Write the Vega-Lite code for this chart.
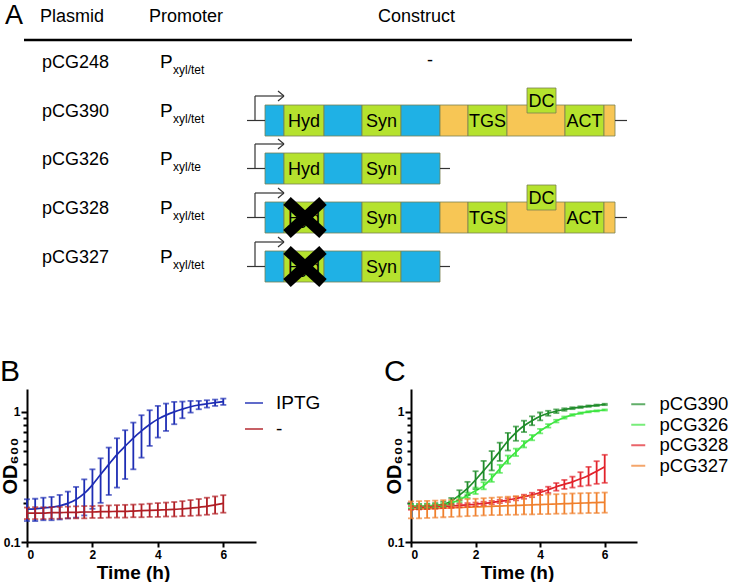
{
  "$schema": "https://vega.github.io/schema/vega-lite/v6.json",
  "autosize": {"type": "pad"},
  "padding": {"left": 0, "top": 0, "right": 34, "bottom": 0},
  "bounds": "flush",
  "spacing": 99,
  "resolve": {"scale": {"x": "independent", "y": "independent", "color": "independent"}, "legend": {"color": "independent"}},
  "datasets": {
    "segs": [
      {"p":"pCG390","x1":268,"x2":287,"y1":105,"y2":136,"kind":"operon1"},
      {"p":"pCG390","x1":287,"x2":327,"y1":105,"y2":136,"kind":"gene"},
      {"p":"pCG390","x1":327,"x2":365,"y1":105,"y2":136,"kind":"operon1"},
      {"p":"pCG390","x1":365,"x2":404,"y1":105,"y2":136,"kind":"gene"},
      {"p":"pCG390","x1":404,"x2":443,"y1":105,"y2":136,"kind":"operon1"},
      {"p":"pCG390","x1":443,"x2":471,"y1":105,"y2":136,"kind":"operon2"},
      {"p":"pCG390","x1":471,"x2":510,"y1":105,"y2":136,"kind":"gene"},
      {"p":"pCG390","x1":510,"x2":568,"y1":105,"y2":136,"kind":"operon2"},
      {"p":"pCG390","x1":568,"x2":607,"y1":105,"y2":136,"kind":"gene"},
      {"p":"pCG390","x1":607,"x2":618,"y1":105,"y2":136,"kind":"operon2"},
      {"p":"pCG390","x1":530,"x2":559,"y1":88,"y2":113,"kind":"gene"},
      {"p":"pCG326","x1":268,"x2":287,"y1":153,"y2":184,"kind":"operon1"},
      {"p":"pCG326","x1":287,"x2":327,"y1":153,"y2":184,"kind":"gene"},
      {"p":"pCG326","x1":327,"x2":365,"y1":153,"y2":184,"kind":"operon1"},
      {"p":"pCG326","x1":365,"x2":404,"y1":153,"y2":184,"kind":"gene"},
      {"p":"pCG326","x1":404,"x2":443,"y1":153,"y2":184,"kind":"operon1"},
      {"p":"pCG328","x1":268,"x2":287,"y1":202,"y2":233,"kind":"operon1"},
      {"p":"pCG328","x1":287,"x2":327,"y1":202,"y2":233,"kind":"gene"},
      {"p":"pCG328","x1":327,"x2":365,"y1":202,"y2":233,"kind":"operon1"},
      {"p":"pCG328","x1":365,"x2":404,"y1":202,"y2":233,"kind":"gene"},
      {"p":"pCG328","x1":404,"x2":443,"y1":202,"y2":233,"kind":"operon1"},
      {"p":"pCG328","x1":443,"x2":471,"y1":202,"y2":233,"kind":"operon2"},
      {"p":"pCG328","x1":471,"x2":510,"y1":202,"y2":233,"kind":"gene"},
      {"p":"pCG328","x1":510,"x2":568,"y1":202,"y2":233,"kind":"operon2"},
      {"p":"pCG328","x1":568,"x2":607,"y1":202,"y2":233,"kind":"gene"},
      {"p":"pCG328","x1":607,"x2":618,"y1":202,"y2":233,"kind":"operon2"},
      {"p":"pCG328","x1":530,"x2":559,"y1":185,"y2":210,"kind":"gene"},
      {"p":"pCG327","x1":268,"x2":287,"y1":251,"y2":282,"kind":"operon1"},
      {"p":"pCG327","x1":287,"x2":327,"y1":251,"y2":282,"kind":"gene"},
      {"p":"pCG327","x1":327,"x2":365,"y1":251,"y2":282,"kind":"operon1"},
      {"p":"pCG327","x1":365,"x2":404,"y1":251,"y2":282,"kind":"gene"},
      {"p":"pCG327","x1":404,"x2":443,"y1":251,"y2":282,"kind":"operon1"}
    ],
    "wires": [
      {"x1":250,"x2":268,"y1":120.5,"y2":120.5},{"x1":618,"x2":630,"y1":120.5,"y2":120.5},
      {"x1":258,"x2":258,"y1":120.5,"y2":96},{"x1":258,"x2":287,"y1":96,"y2":96},
      {"x1":287,"x2":281,"y1":96,"y2":91},{"x1":287,"x2":281,"y1":96,"y2":101},
      {"x1":250,"x2":268,"y1":168.5,"y2":168.5},{"x1":443,"x2":453,"y1":168.5,"y2":168.5},
      {"x1":258,"x2":258,"y1":168.5,"y2":144},{"x1":258,"x2":287,"y1":144,"y2":144},
      {"x1":287,"x2":281,"y1":144,"y2":139},{"x1":287,"x2":281,"y1":144,"y2":149},
      {"x1":250,"x2":268,"y1":217.5,"y2":217.5},{"x1":618,"x2":630,"y1":217.5,"y2":217.5},
      {"x1":258,"x2":258,"y1":217.5,"y2":193},{"x1":258,"x2":287,"y1":193,"y2":193},
      {"x1":287,"x2":281,"y1":193,"y2":188},{"x1":287,"x2":281,"y1":193,"y2":198},
      {"x1":250,"x2":268,"y1":266.5,"y2":266.5},{"x1":443,"x2":453,"y1":266.5,"y2":266.5},
      {"x1":258,"x2":258,"y1":266.5,"y2":242},{"x1":258,"x2":287,"y1":242,"y2":242},
      {"x1":287,"x2":281,"y1":242,"y2":237},{"x1":287,"x2":281,"y1":242,"y2":247}
    ],
    "crosses": [
      {"p":"pCG328","x1":290,"x2":326,"y1":201,"y2":234},{"p":"pCG328","x1":290,"x2":326,"y1":234,"y2":201},
      {"p":"pCG327","x1":290,"x2":326,"y1":250,"y2":283},{"p":"pCG327","x1":290,"x2":326,"y1":283,"y2":250}
    ],
    "header": [{"x1":27,"x2":635,"y1":40,"y2":40}],
    "tableText": [
      {"label":"Plasmid","x":43,"y":22},{"label":"Promoter","x":152,"y":22},{"label":"Construct","x":381,"y":22},
      {"label":"pCG248","x":45,"y":68},{"label":"pCG390","x":45,"y":117},{"label":"pCG326","x":45,"y":165},
      {"label":"pCG328","x":45,"y":214},{"label":"pCG327","x":45,"y":263}
    ],
    "promP": [
      {"label":"P","x":163,"y":68},{"label":"P","x":163,"y":117},{"label":"P","x":163,"y":165},
      {"label":"P","x":163,"y":214},{"label":"P","x":163,"y":263}
    ],
    "promSub": [
      {"label":"xyl/tet","x":176,"y":74},{"label":"xyl/tet","x":176,"y":123},{"label":"xyl/te","x":176,"y":171},
      {"label":"xyl/tet","x":176,"y":220},{"label":"xyl/tet","x":176,"y":269}
    ],
    "geneText": [
      {"label":"-","x":433,"y":66},
      {"label":"Hyd","x":307,"y":127},{"label":"Syn","x":384.5,"y":127},{"label":"TGS","x":490.5,"y":127},{"label":"ACT","x":587.5,"y":127},{"label":"DC","x":544.5,"y":107},
      {"label":"Hyd","x":307,"y":175},{"label":"Syn","x":384.5,"y":175},
      {"label":"Hyd","x":307,"y":224},{"label":"Syn","x":384.5,"y":224},{"label":"TGS","x":490.5,"y":224},{"label":"ACT","x":587.5,"y":224},{"label":"DC","x":544.5,"y":204},
      {"label":"Hyd","x":307,"y":273},{"label":"Syn","x":384.5,"y":273}
    ],
    "panelA": [{"label":"A","x":8,"y":24}],
    "growthB": [
      {"c":"IPTG","t":0,"m":0.179,"lo":0.145,"hi":0.213},
      {"c":"IPTG","t":0.25,"m":0.180,"lo":0.145,"hi":0.215},
      {"c":"IPTG","t":0.5,"m":0.183,"lo":0.147,"hi":0.219},
      {"c":"IPTG","t":0.75,"m":0.185,"lo":0.147,"hi":0.222},
      {"c":"IPTG","t":1,"m":0.190,"lo":0.149,"hi":0.230},
      {"c":"IPTG","t":1.25,"m":0.198,"lo":0.152,"hi":0.244},
      {"c":"IPTG","t":1.5,"m":0.212,"lo":0.154,"hi":0.265},
      {"c":"IPTG","t":1.75,"m":0.236,"lo":0.160,"hi":0.303},
      {"c":"IPTG","t":2,"m":0.275,"lo":0.180,"hi":0.362},
      {"c":"IPTG","t":2.25,"m":0.330,"lo":0.200,"hi":0.440},
      {"c":"IPTG","t":2.5,"m":0.395,"lo":0.230,"hi":0.532},
      {"c":"IPTG","t":2.75,"m":0.470,"lo":0.262,"hi":0.627},
      {"c":"IPTG","t":3,"m":0.545,"lo":0.305,"hi":0.723},
      {"c":"IPTG","t":3.25,"m":0.630,"lo":0.362,"hi":0.828},
      {"c":"IPTG","t":3.5,"m":0.715,"lo":0.445,"hi":0.943},
      {"c":"IPTG","t":3.75,"m":0.800,"lo":0.548,"hi":1.030},
      {"c":"IPTG","t":4,"m":0.880,"lo":0.635,"hi":1.112},
      {"c":"IPTG","t":4.25,"m":0.945,"lo":0.714,"hi":1.159},
      {"c":"IPTG","t":4.5,"m":1.000,"lo":0.804,"hi":1.194},
      {"c":"IPTG","t":4.75,"m":1.050,"lo":0.894,"hi":1.201},
      {"c":"IPTG","t":5,"m":1.095,"lo":0.988,"hi":1.215},
      {"c":"IPTG","t":5.25,"m":1.130,"lo":1.048,"hi":1.215},
      {"c":"IPTG","t":5.5,"m":1.155,"lo":1.080,"hi":1.229},
      {"c":"IPTG","t":5.75,"m":1.178,"lo":1.112,"hi":1.244},
      {"c":"IPTG","t":6,"m":1.199,"lo":1.132,"hi":1.266},
      {"c":"-","t":0,"m":0.167,"lo":0.150,"hi":0.184},
      {"c":"-","t":0.25,"m":0.167,"lo":0.150,"hi":0.185},
      {"c":"-","t":0.5,"m":0.167,"lo":0.150,"hi":0.185},
      {"c":"-","t":0.75,"m":0.168,"lo":0.151,"hi":0.186},
      {"c":"-","t":1,"m":0.168,"lo":0.151,"hi":0.186},
      {"c":"-","t":1.25,"m":0.169,"lo":0.152,"hi":0.187},
      {"c":"-","t":1.5,"m":0.169,"lo":0.152,"hi":0.188},
      {"c":"-","t":1.75,"m":0.170,"lo":0.152,"hi":0.189},
      {"c":"-","t":2,"m":0.170,"lo":0.153,"hi":0.189},
      {"c":"-","t":2.25,"m":0.171,"lo":0.153,"hi":0.190},
      {"c":"-","t":2.5,"m":0.171,"lo":0.154,"hi":0.191},
      {"c":"-","t":2.75,"m":0.172,"lo":0.154,"hi":0.192},
      {"c":"-","t":3,"m":0.172,"lo":0.154,"hi":0.193},
      {"c":"-","t":3.25,"m":0.173,"lo":0.155,"hi":0.194},
      {"c":"-","t":3.5,"m":0.174,"lo":0.155,"hi":0.195},
      {"c":"-","t":3.75,"m":0.175,"lo":0.156,"hi":0.197},
      {"c":"-","t":4,"m":0.176,"lo":0.156,"hi":0.199},
      {"c":"-","t":4.25,"m":0.177,"lo":0.157,"hi":0.201},
      {"c":"-","t":4.5,"m":0.178,"lo":0.157,"hi":0.203},
      {"c":"-","t":4.75,"m":0.180,"lo":0.158,"hi":0.206},
      {"c":"-","t":5,"m":0.182,"lo":0.159,"hi":0.210},
      {"c":"-","t":5.25,"m":0.185,"lo":0.160,"hi":0.214},
      {"c":"-","t":5.5,"m":0.188,"lo":0.162,"hi":0.219},
      {"c":"-","t":5.75,"m":0.193,"lo":0.165,"hi":0.224},
      {"c":"-","t":6,"m":0.198,"lo":0.168,"hi":0.229}
    ],
    "growthC": [
      {"c":"pCG390","t":0,"m":0.188,"lo":0.180,"hi":0.196},
      {"c":"pCG390","t":0.25,"m":0.188,"lo":0.180,"hi":0.196},
      {"c":"pCG390","t":0.5,"m":0.189,"lo":0.181,"hi":0.197},
      {"c":"pCG390","t":0.75,"m":0.191,"lo":0.183,"hi":0.199},
      {"c":"pCG390","t":1,"m":0.195,"lo":0.186,"hi":0.204},
      {"c":"pCG390","t":1.25,"m":0.207,"lo":0.196,"hi":0.218},
      {"c":"pCG390","t":1.5,"m":0.229,"lo":0.209,"hi":0.250},
      {"c":"pCG390","t":1.75,"m":0.258,"lo":0.229,"hi":0.290},
      {"c":"pCG390","t":2,"m":0.300,"lo":0.255,"hi":0.350},
      {"c":"pCG390","t":2.25,"m":0.354,"lo":0.300,"hi":0.420},
      {"c":"pCG390","t":2.5,"m":0.417,"lo":0.355,"hi":0.500},
      {"c":"pCG390","t":2.75,"m":0.499,"lo":0.420,"hi":0.580},
      {"c":"pCG390","t":3,"m":0.597,"lo":0.505,"hi":0.690},
      {"c":"pCG390","t":3.25,"m":0.694,"lo":0.600,"hi":0.772},
      {"c":"pCG390","t":3.5,"m":0.782,"lo":0.700,"hi":0.856},
      {"c":"pCG390","t":3.75,"m":0.856,"lo":0.790,"hi":0.925},
      {"c":"pCG390","t":4,"m":0.925,"lo":0.860,"hi":0.990},
      {"c":"pCG390","t":4.25,"m":0.976,"lo":0.935,"hi":1.020},
      {"c":"pCG390","t":4.5,"m":1.012,"lo":0.980,"hi":1.045},
      {"c":"pCG390","t":4.75,"m":1.043,"lo":1.020,"hi":1.066},
      {"c":"pCG390","t":5,"m":1.068,"lo":1.050,"hi":1.086},
      {"c":"pCG390","t":5.25,"m":1.088,"lo":1.072,"hi":1.104},
      {"c":"pCG390","t":5.5,"m":1.107,"lo":1.093,"hi":1.121},
      {"c":"pCG390","t":5.75,"m":1.124,"lo":1.110,"hi":1.138},
      {"c":"pCG390","t":6,"m":1.141,"lo":1.127,"hi":1.155},
      {"c":"pCG326","t":0,"m":0.188,"lo":0.182,"hi":0.194},
      {"c":"pCG326","t":0.25,"m":0.188,"lo":0.182,"hi":0.194},
      {"c":"pCG326","t":0.5,"m":0.189,"lo":0.183,"hi":0.195},
      {"c":"pCG326","t":0.75,"m":0.190,"lo":0.184,"hi":0.196},
      {"c":"pCG326","t":1,"m":0.192,"lo":0.186,"hi":0.198},
      {"c":"pCG326","t":1.25,"m":0.199,"lo":0.192,"hi":0.206},
      {"c":"pCG326","t":1.5,"m":0.211,"lo":0.202,"hi":0.220},
      {"c":"pCG326","t":1.75,"m":0.229,"lo":0.218,"hi":0.240},
      {"c":"pCG326","t":2,"m":0.248,"lo":0.234,"hi":0.262},
      {"c":"pCG326","t":2.25,"m":0.270,"lo":0.254,"hi":0.288},
      {"c":"pCG326","t":2.5,"m":0.310,"lo":0.290,"hi":0.332},
      {"c":"pCG326","t":2.75,"m":0.365,"lo":0.340,"hi":0.392},
      {"c":"pCG326","t":3,"m":0.430,"lo":0.400,"hi":0.462},
      {"c":"pCG326","t":3.25,"m":0.490,"lo":0.458,"hi":0.522},
      {"c":"pCG326","t":3.5,"m":0.565,"lo":0.533,"hi":0.597},
      {"c":"pCG326","t":3.75,"m":0.635,"lo":0.605,"hi":0.665},
      {"c":"pCG326","t":4,"m":0.712,"lo":0.685,"hi":0.740},
      {"c":"pCG326","t":4.25,"m":0.782,"lo":0.758,"hi":0.806},
      {"c":"pCG326","t":4.5,"m":0.850,"lo":0.830,"hi":0.870},
      {"c":"pCG326","t":4.75,"m":0.905,"lo":0.888,"hi":0.922},
      {"c":"pCG326","t":5,"m":0.948,"lo":0.934,"hi":0.962},
      {"c":"pCG326","t":5.25,"m":0.978,"lo":0.966,"hi":0.990},
      {"c":"pCG326","t":5.5,"m":1.002,"lo":0.992,"hi":1.012},
      {"c":"pCG326","t":5.75,"m":1.018,"lo":1.008,"hi":1.028},
      {"c":"pCG326","t":6,"m":1.035,"lo":1.025,"hi":1.045},
      {"c":"pCG328","t":0,"m":0.183,"lo":0.177,"hi":0.189},
      {"c":"pCG328","t":0.25,"m":0.184,"lo":0.178,"hi":0.190},
      {"c":"pCG328","t":0.5,"m":0.185,"lo":0.179,"hi":0.191},
      {"c":"pCG328","t":0.75,"m":0.186,"lo":0.180,"hi":0.192},
      {"c":"pCG328","t":1,"m":0.188,"lo":0.182,"hi":0.194},
      {"c":"pCG328","t":1.25,"m":0.189,"lo":0.183,"hi":0.195},
      {"c":"pCG328","t":1.5,"m":0.191,"lo":0.185,"hi":0.197},
      {"c":"pCG328","t":1.75,"m":0.193,"lo":0.187,"hi":0.199},
      {"c":"pCG328","t":2,"m":0.195,"lo":0.189,"hi":0.201},
      {"c":"pCG328","t":2.25,"m":0.198,"lo":0.192,"hi":0.204},
      {"c":"pCG328","t":2.5,"m":0.201,"lo":0.195,"hi":0.207},
      {"c":"pCG328","t":2.75,"m":0.205,"lo":0.199,"hi":0.211},
      {"c":"pCG328","t":3,"m":0.210,"lo":0.203,"hi":0.217},
      {"c":"pCG328","t":3.25,"m":0.216,"lo":0.209,"hi":0.223},
      {"c":"pCG328","t":3.5,"m":0.223,"lo":0.215,"hi":0.231},
      {"c":"pCG328","t":3.75,"m":0.230,"lo":0.221,"hi":0.239},
      {"c":"pCG328","t":4,"m":0.240,"lo":0.229,"hi":0.251},
      {"c":"pCG328","t":4.25,"m":0.252,"lo":0.238,"hi":0.266},
      {"c":"pCG328","t":4.5,"m":0.266,"lo":0.248,"hi":0.284},
      {"c":"pCG328","t":4.75,"m":0.278,"lo":0.256,"hi":0.300},
      {"c":"pCG328","t":5,"m":0.290,"lo":0.262,"hi":0.318},
      {"c":"pCG328","t":5.25,"m":0.306,"lo":0.268,"hi":0.344},
      {"c":"pCG328","t":5.5,"m":0.325,"lo":0.272,"hi":0.378},
      {"c":"pCG328","t":5.75,"m":0.350,"lo":0.280,"hi":0.418},
      {"c":"pCG328","t":6,"m":0.378,"lo":0.285,"hi":0.468},
      {"c":"pCG327","t":0,"m":0.178,"lo":0.152,"hi":0.205},
      {"c":"pCG327","t":0.25,"m":0.179,"lo":0.152,"hi":0.206},
      {"c":"pCG327","t":0.5,"m":0.180,"lo":0.153,"hi":0.207},
      {"c":"pCG327","t":0.75,"m":0.181,"lo":0.154,"hi":0.208},
      {"c":"pCG327","t":1,"m":0.182,"lo":0.155,"hi":0.210},
      {"c":"pCG327","t":1.25,"m":0.183,"lo":0.156,"hi":0.211},
      {"c":"pCG327","t":1.5,"m":0.184,"lo":0.157,"hi":0.212},
      {"c":"pCG327","t":1.75,"m":0.185,"lo":0.158,"hi":0.214},
      {"c":"pCG327","t":2,"m":0.186,"lo":0.159,"hi":0.215},
      {"c":"pCG327","t":2.25,"m":0.187,"lo":0.160,"hi":0.217},
      {"c":"pCG327","t":2.5,"m":0.188,"lo":0.161,"hi":0.219},
      {"c":"pCG327","t":2.75,"m":0.189,"lo":0.161,"hi":0.221},
      {"c":"pCG327","t":3,"m":0.190,"lo":0.162,"hi":0.223},
      {"c":"pCG327","t":3.25,"m":0.191,"lo":0.162,"hi":0.225},
      {"c":"pCG327","t":3.5,"m":0.192,"lo":0.163,"hi":0.227},
      {"c":"pCG327","t":3.75,"m":0.193,"lo":0.163,"hi":0.228},
      {"c":"pCG327","t":4,"m":0.194,"lo":0.164,"hi":0.230},
      {"c":"pCG327","t":4.25,"m":0.195,"lo":0.164,"hi":0.232},
      {"c":"pCG327","t":4.5,"m":0.196,"lo":0.165,"hi":0.233},
      {"c":"pCG327","t":4.75,"m":0.197,"lo":0.165,"hi":0.235},
      {"c":"pCG327","t":5,"m":0.198,"lo":0.166,"hi":0.236},
      {"c":"pCG327","t":5.25,"m":0.199,"lo":0.166,"hi":0.237},
      {"c":"pCG327","t":5.5,"m":0.200,"lo":0.167,"hi":0.238},
      {"c":"pCG327","t":5.75,"m":0.201,"lo":0.167,"hi":0.239},
      {"c":"pCG327","t":6,"m":0.202,"lo":0.168,"hi":0.240}
    ]
  },
  "vconcat": [
    {
      "width": 702,
      "height": 290,
      "layer": [
        {
          "data": {"name": "segs"},
          "mark": {"type": "rect", "stroke": "#7a8050", "strokeWidth": 0.8},
          "encoding": {
            "x": {"field": "x1", "type": "quantitative", "scale": {"domain": [30, 732]}, "axis": null},
            "x2": {"field": "x2"},
            "y": {"field": "y1", "type": "quantitative", "scale": {"domain": [290, 0]}, "axis": null},
            "y2": {"field": "y2"},
            "color": {"field": "kind", "type": "nominal", "legend": null,
              "scale": {"domain": ["operon1", "gene", "operon2"], "range": ["#1fb1e5", "#b5e22e", "#f7c655"]}}
          }
        },
        {
          "data": {"name": "wires"},
          "mark": {"type": "rule", "color": "#333333", "strokeWidth": 1.2},
          "encoding": {
            "x": {"field": "x1", "type": "quantitative", "scale": {"domain": [30, 732]}, "axis": null},
            "x2": {"field": "x2"},
            "y": {"field": "y1", "type": "quantitative", "scale": {"domain": [290, 0]}, "axis": null},
            "y2": {"field": "y2"}
          }
        },
        {
          "data": {"name": "header"},
          "mark": {"type": "rule", "color": "#000000", "strokeWidth": 2.5},
          "encoding": {
            "x": {"field": "x1", "type": "quantitative", "scale": {"domain": [30, 732]}, "axis": null},
            "x2": {"field": "x2"},
            "y": {"field": "y1", "type": "quantitative", "scale": {"domain": [290, 0]}, "axis": null},
            "y2": {"field": "y2"}
          }
        },
        {
          "data": {"name": "tableText"},
          "mark": {"type": "text", "align": "left", "baseline": "alphabetic", "fontSize": 18, "font": "Liberation Sans", "color": "#000000"},
          "encoding": {
            "x": {"field": "x", "type": "quantitative", "scale": {"domain": [30, 732]}, "axis": null},
            "y": {"field": "y", "type": "quantitative", "scale": {"domain": [290, 0]}, "axis": null},
            "text": {"field": "label"}
          }
        },
        {
          "data": {"name": "promP"},
          "mark": {"type": "text", "align": "left", "baseline": "alphabetic", "fontSize": 19, "font": "Liberation Sans", "color": "#000000"},
          "encoding": {
            "x": {"field": "x", "type": "quantitative", "scale": {"domain": [30, 732]}, "axis": null},
            "y": {"field": "y", "type": "quantitative", "scale": {"domain": [290, 0]}, "axis": null},
            "text": {"field": "label"}
          }
        },
        {
          "data": {"name": "promSub"},
          "mark": {"type": "text", "align": "left", "baseline": "alphabetic", "fontSize": 12, "font": "Liberation Sans", "color": "#000000"},
          "encoding": {
            "x": {"field": "x", "type": "quantitative", "scale": {"domain": [30, 732]}, "axis": null},
            "y": {"field": "y", "type": "quantitative", "scale": {"domain": [290, 0]}, "axis": null},
            "text": {"field": "label"}
          }
        },
        {
          "data": {"name": "geneText"},
          "mark": {"type": "text", "align": "center", "baseline": "alphabetic", "fontSize": 18, "font": "Liberation Sans", "color": "#000000"},
          "encoding": {
            "x": {"field": "x", "type": "quantitative", "scale": {"domain": [30, 732]}, "axis": null},
            "y": {"field": "y", "type": "quantitative", "scale": {"domain": [290, 0]}, "axis": null},
            "text": {"field": "label"}
          }
        },
        {
          "data": {"name": "crosses"},
          "mark": {"type": "rule", "color": "#000000", "strokeWidth": 11, "strokeCap": "butt"},
          "encoding": {
            "x": {"field": "x1", "type": "quantitative", "scale": {"domain": [30, 732]}, "axis": null},
            "x2": {"field": "x2"},
            "y": {"field": "y1", "type": "quantitative", "scale": {"domain": [290, 0]}, "axis": null},
            "y2": {"field": "y2"}
          }
        },
        {
          "data": {"name": "panelA"},
          "mark": {"type": "text", "align": "left", "baseline": "alphabetic", "fontSize": 27, "font": "Liberation Sans", "color": "#000000"},
          "encoding": {
            "x": {"field": "x", "type": "quantitative", "scale": {"domain": [30, 732]}, "axis": null},
            "y": {"field": "y", "type": "quantitative", "scale": {"domain": [290, 0]}, "axis": null},
            "text": {"field": "label"}
          }
        }
      ]
    },
    {
      "bounds": "flush",
      "spacing": 155,
      "resolve": {"scale": {"x": "independent", "y": "independent", "color": "independent"}, "legend": {"color": "independent"}},
      "hconcat": [
        {
          "width": 229,
          "height": 153,
          "title": {"text": "B", "anchor": "start", "frame": "bounds", "fontSize": 30, "fontWeight": "normal", "font": "Liberation Sans", "color": "#000000", "offset": 2},
          "data": {"name": "growthB"},
          "encoding": {
            "x": {"field": "t", "type": "quantitative", "scale": {"domain": [0, 7], "nice": false},
              "axis": {"title": "Time (h)", "values": [0, 2, 4, 6], "tickSize": 5, "labelPadding": 2, "titleFontSize": 19, "titlePadding": 3, "titleX": 106}},
            "color": {"field": "c", "type": "nominal",
              "scale": {"domain": ["IPTG", "-"], "range": ["#1e2db4", "#b01e24"]},
              "legend": {"orient": "none", "legendX": 217, "legendY": 4, "title": null, "symbolType": "stroke", "symbolSize": 324, "symbolStrokeWidth": 2, "labelFontSize": 19, "labelOffset": 12, "rowPadding": 6}}
          },
          "layer": [
            {
              "mark": {"type": "line", "interpolate": "monotone", "strokeWidth": 1.7},
              "encoding": {
                "y": {"field": "m", "type": "quantitative", "scale": {"type": "log", "domain": [0.1, 1.5], "nice": false},
                  "axis": {"title": "OD₆₀₀", "values": [0.1, 0.2, 0.3, 0.4, 0.5, 0.6, 0.7, 0.8, 0.9, 1], "labelExpr": "datum.value == 1 ? '1' : (datum.value == 0.1 ? '0.1' : '')", "tickSize": {"condition": {"test": "datum.value == 1 || datum.value == 0.1", "value": 6}, "value": 4}, "labelPadding": 1, "titleFontSize": 20, "titleX": -7, "titleBaseline": "bottom"}}
              }
            },
            {
              "mark": {"type": "errorbar", "ticks": {"size": 6}, "thickness": 1.8},
              "encoding": {
                "y": {"field": "lo", "type": "quantitative", "scale": {"type": "log", "domain": [0.1, 1.5], "nice": false},
                  "axis": {"title": "OD₆₀₀", "values": [0.1, 0.2, 0.3, 0.4, 0.5, 0.6, 0.7, 0.8, 0.9, 1], "labelExpr": "datum.value == 1 ? '1' : (datum.value == 0.1 ? '0.1' : '')", "tickSize": {"condition": {"test": "datum.value == 1 || datum.value == 0.1", "value": 6}, "value": 4}, "labelPadding": 1, "titleFontSize": 20, "titleX": -7, "titleBaseline": "bottom"}},
                "y2": {"field": "hi"}
              }
            }
          ]
        },
        {
          "width": 226,
          "height": 153,
          "title": {"text": "C", "anchor": "start", "frame": "bounds", "fontSize": 30, "fontWeight": "normal", "font": "Liberation Sans", "color": "#000000", "offset": 2},
          "data": {"name": "growthC"},
          "encoding": {
            "x": {"field": "t", "type": "quantitative", "scale": {"domain": [0, 7], "nice": false},
              "axis": {"title": "Time (h)", "values": [0, 2, 4, 6], "tickSize": 5, "labelPadding": 2, "titleFontSize": 19, "titlePadding": 3, "titleX": 106}},
            "color": {"field": "c", "type": "nominal",
              "scale": {"domain": ["pCG390", "pCG326", "pCG328", "pCG327"], "range": ["#1f8c2a", "#3fe642", "#e2232b", "#f0802d"]},
              "legend": {"orient": "none", "legendX": 218, "legendY": 6, "title": null, "symbolType": "stroke", "symbolSize": 196, "symbolStrokeWidth": 2, "labelFontSize": 18.5, "labelOffset": 12, "rowPadding": 1.5, "labelLimit": 200}}
          },
          "layer": [
            {
              "mark": {"type": "line", "interpolate": "monotone", "strokeWidth": 1.7},
              "encoding": {
                "y": {"field": "m", "type": "quantitative", "scale": {"type": "log", "domain": [0.1, 1.5], "nice": false},
                  "axis": {"title": "OD₆₀₀", "values": [0.1, 0.2, 0.3, 0.4, 0.5, 0.6, 0.7, 0.8, 0.9, 1], "labelExpr": "datum.value == 1 ? '1' : (datum.value == 0.1 ? '0.1' : '')", "tickSize": {"condition": {"test": "datum.value == 1 || datum.value == 0.1", "value": 6}, "value": 4}, "labelPadding": 1, "titleFontSize": 20, "titleX": -7, "titleBaseline": "bottom"}}
              }
            },
            {
              "mark": {"type": "errorbar", "ticks": {"size": 6}, "thickness": 1.8},
              "encoding": {
                "y": {"field": "lo", "type": "quantitative", "scale": {"type": "log", "domain": [0.1, 1.5], "nice": false},
                  "axis": {"title": "OD₆₀₀", "values": [0.1, 0.2, 0.3, 0.4, 0.5, 0.6, 0.7, 0.8, 0.9, 1], "labelExpr": "datum.value == 1 ? '1' : (datum.value == 0.1 ? '0.1' : '')", "tickSize": {"condition": {"test": "datum.value == 1 || datum.value == 0.1", "value": 6}, "value": 4}, "labelPadding": 1, "titleFontSize": 20, "titleX": -7, "titleBaseline": "bottom"}},
                "y2": {"field": "hi"}
              }
            }
          ]
        }
      ]
    }
  ],
  "config": {
    "font": "Liberation Sans",
    "view": {"stroke": null},
    "axis": {"domainColor": "#000000", "domainWidth": 2, "tickColor": "#000000", "tickWidth": 2, "labelColor": "#000000", "labelFont": "Liberation Sans", "labelFontSize": 12, "labelFontWeight": "bold", "titleColor": "#000000", "titleFont": "Liberation Sans", "titleFontWeight": "bold", "grid": false},
    "legend": {"labelFont": "Liberation Sans", "labelColor": "#000000", "padding": 0}
  }
}
